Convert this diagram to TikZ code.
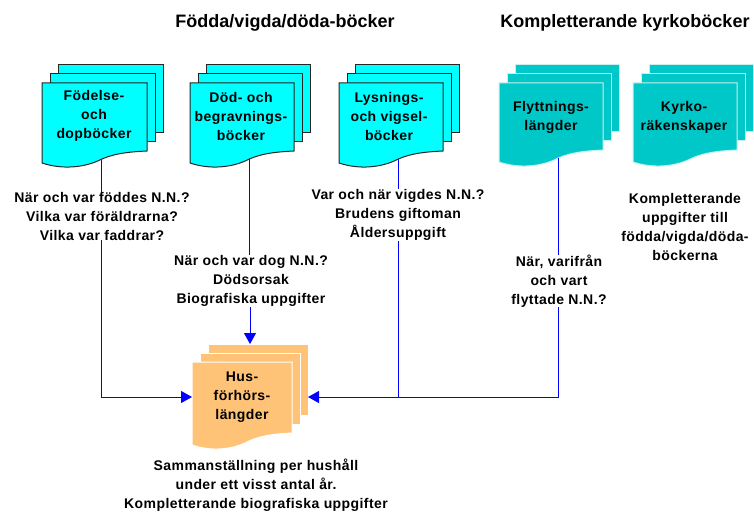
\documentclass[tikz,border=0pt]{standalone}
\usepackage{fontspec}
\setmainfont{Liberation Sans}
\newfontfamily\labelfont[LetterSpace=3]{Liberation Sans Bold}
\usetikzlibrary{arrows.meta}
\definecolor{cyanfill}{RGB}{0,255,255}
\definecolor{tealfill}{RGB}{0,200,200}
\definecolor{orangefill}{RGB}{255,195,120}
\definecolor{linkblue}{RGB}{0,0,255}
\definecolor{paleedge}{RGB}{200,240,240}
\tikzset{
  x=1pt,y=-1pt,
  doc/.style={font=\labelfont\fontsize{14}{19}\selectfont,align=center,inner sep=0pt,text=black},
  lab/.style={doc},
  head/.style={font=\bfseries\fontsize{18}{19}\selectfont,inner sep=0pt,text=black},
  link/.style={draw=linkblue,line width=1pt},
  linkarrow/.style={link,-{Triangle[length=11pt,width=12pt]}},
}
\newcommand{\docstack}[9]{%
  \foreach \d in {2,1}{%
    \path[fill=#6,draw=#7,line width=1pt] ({#2+8*\d},{#3-9*\d}) rectangle ++(#4,#5);
  }
  \path[fill=#6,draw=#7,line width=1pt] (#2,#3) -- ++(#4,0) -- ++(0,#5)
    .. controls ({#2+#4*0.8},{#3+#5+1}) and ({#2+#4*0.66},{#3+#5+3}) .. ({#2+#4*0.53},{#3+#5+10})
    .. controls ({#2+#4*0.4},{#3+#5+16}) and ({#2+#4*0.2},{#3+#5+19}) .. (#2,{#3+#5+12}) -- cycle;
  \coordinate (#1-out) at ({#2+#4*0.57},{#3+#5+8});
  \coordinate (#1-west) at (#2,{#3+35});
  \coordinate (#1-east) at ({#2+#4+16},{#3+35});
  \coordinate (#1-top) at ({#2+58},{#3-18});
  \node[doc] (#1) at (#8) {#9};
}
\begin{document}
\begin{tikzpicture}
\useasboundingbox (0,0) rectangle (754,513);
\fill[white] (0,0) rectangle (754,513);

\node[head] (h1) at (285,23) {Födda/vigda/döda-böcker};
\node[head] (h2) at (625,23) {Kompletterande kyrkoböcker};

\docstack{fod}{42}{83}{105}{68}{cyanfill}{black!85}{94,116}{Födelse-\\och\\dopböcker}
\docstack{dod}{190}{83}{104}{68}{cyanfill}{black!85}{241,116}{Död- och\\begravnings-\\böcker}
\docstack{lys}{339}{83}{104}{68}{cyanfill}{black!85}{389,116}{Lysnings-\\och vigsel-\\böcker}
\docstack{fly}{499}{83}{104}{67}{tealfill}{paleedge}{551,117}{Flyttnings-\\längder}
\docstack{kyr}{633}{83}{104}{67}{tealfill}{paleedge}{684,117}{Kyrko-\\räkenskaper}
\docstack{hus}{192}{362}{100}{71}{orangefill}{white}{242,397}{Hus-\\förhörs-\\längder}

\node[lab] (lfod) at (102,216) {När och var föddes N.N.?\\Vilka var föräldrarna?\\Vilka var faddrar?};
\node[lab] (ldod) at (251,281) {När och var dog N.N.?\\Dödsorsak\\Biografiska uppgifter};
\node[lab] (llys) at (398,215) {Var och när vigdes N.N.?\\Brudens giftoman\\Åldersuppgift};
\node[lab] (lfly) at (559,281) {När, varifrån\\och vart\\flyttade N.N.?};
\node[lab] (lkyr) at (685,227) {Kompletterande\\uppgifter till\\födda/vigda/döda-\\böckerna};
\node[lab] (lhus) at (256,485) {Sammanställning per hushåll\\under ett visst antal år.\\Kompletterande biografiska uppgifter};

\coordinate (join) at (lys-out |- hus-east);
\coordinate (corner) at (fly-out |- hus-east);

\draw[link] (fod-out) -- (fod-out |- lfod.north);
\draw[link] (dod-out) -- (dod-out |- ldod.north);
\draw[link] (lys-out) -- (lys-out |- llys.north);
\draw[link] (fly-out) -- (fly-out |- lfly.north);
\draw[linkarrow] (fod-out |- lfod.south) |- (hus-west);
\draw[linkarrow] (hus-top |- ldod.south) -- (hus-top);
\draw[link] (lys-out |- llys.south) -- (join);
\draw[linkarrow] (fly-out |- lfly.south) -- (corner) -- (hus-east);
\end{tikzpicture}
\end{document}
